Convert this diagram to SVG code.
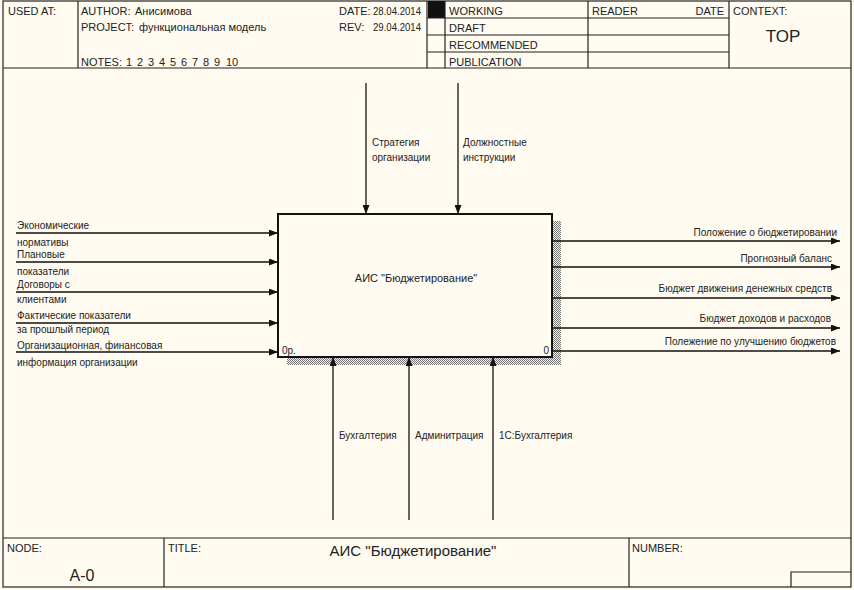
<svg xmlns="http://www.w3.org/2000/svg" width="854" height="590" viewBox="0 0 854 590">
<style>
text{font-family:"Liberation Sans",Arial,sans-serif;fill:#222}
.h{font-size:11px}
.l{font-size:10px}
.fr{fill:none;stroke:#333;stroke-width:1.3}
.ln{stroke:#222;stroke-width:1.2;fill:none}
.c{stroke:#111;stroke-width:1.3;fill:none;marker-end:url(#ah)}
</style>
<defs>
<marker id="ah" markerUnits="userSpaceOnUse" markerWidth="9" markerHeight="7" refX="9" refY="3.5" orient="auto">
<path d="M0,0 L9,3.5 L0,7 z" fill="#111"/>
</marker>
<pattern id="hatch" width="2" height="2" patternUnits="userSpaceOnUse">
<rect width="2" height="2" fill="#f4f0e6"/>
<rect width="1" height="1" fill="#777"/>
<rect x="1" y="1" width="1" height="1" fill="#777"/>
</pattern>
</defs>
<rect width="854" height="590" fill="#fffbf1"/>
<g id="frame">
<rect class="fr" x="3" y="1" width="848" height="586"/>
<line class="ln" x1="3" y1="68" x2="851" y2="68"/>
<line class="ln" x1="3" y1="538" x2="851" y2="538"/>
</g>
<g id="header">
<line class="ln" x1="78" y1="1" x2="78" y2="68"/>
<line class="ln" x1="427" y1="1" x2="427" y2="68"/>
<rect x="428" y="1" width="17" height="17" fill="#111"/>
<line class="ln" x1="445" y1="1" x2="445" y2="68"/>
<line class="ln" x1="588" y1="1" x2="588" y2="68"/>
<line class="ln" x1="729" y1="1" x2="729" y2="68"/>
<line class="ln" x1="427" y1="18" x2="729" y2="18"/>
<line class="ln" x1="427" y1="35" x2="729" y2="35"/>
<line class="ln" x1="427" y1="52" x2="729" y2="52"/>
<text class="h" x="8" y="15">USED AT:</text>
<text class="h" x="81" y="15">AUTHOR:</text>
<text class="h" x="135" y="15" font-size="10">Анисимова</text>
<text class="h" x="81" y="31">PROJECT:</text>
<text class="h" x="139" y="31" font-size="10">функциональная модель</text>
<text class="h" x="81" y="66">NOTES:</text>
<text class="h" y="66" font-size="10.5"><tspan x="126">1</tspan><tspan x="137">2</tspan><tspan x="148">3</tspan><tspan x="159">4</tspan><tspan x="170">5</tspan><tspan x="181">6</tspan><tspan x="192">7</tspan><tspan x="203">8</tspan><tspan x="214">9</tspan><tspan x="226">10</tspan></text>
<text class="h" x="339" y="15">DATE:</text>
<text class="h" x="373" y="15" textLength="48" lengthAdjust="spacingAndGlyphs">28.04.2014</text>
<text class="h" x="339" y="31">REV:</text>
<text class="h" x="373" y="31" textLength="48" lengthAdjust="spacingAndGlyphs">29.04.2014</text>
<text class="h" x="449" y="15">WORKING</text>
<text class="h" x="449" y="32">DRAFT</text>
<text class="h" x="449" y="49">RECOMMENDED</text>
<text class="h" x="449" y="66">PUBLICATION</text>
<text class="h" x="592" y="15">READER</text>
<text class="h" x="724" y="15" text-anchor="end">DATE</text>
<text class="h" x="733" y="15">CONTEXT:</text>
<text x="783" y="42" text-anchor="middle" font-size="17">TOP</text>
</g>
<g id="footer">
<line class="ln" x1="164" y1="538" x2="164" y2="587"/>
<line class="ln" x1="629" y1="538" x2="629" y2="587"/>
<polyline class="ln" points="791,587 791,572 851,572"/>
<text class="h" x="7" y="552">NODE:</text>
<text x="82" y="581" text-anchor="middle" font-size="16">A-0</text>
<text class="h" x="168" y="552">TITLE:</text>
<text x="413" y="556" text-anchor="middle" font-size="15">АИС "Бюджетирование"</text>
<text class="h" x="632" y="552">NUMBER:</text>
</g>
<g id="node-A0">
<path d="M553,221 H561 V365 H287 V357 H553 Z" fill="url(#hatch)"/>
<rect x="278" y="214" width="274" height="143" fill="#fffbf1" stroke="#111" stroke-width="2"/>
<text class="h" x="416" y="282" text-anchor="middle">АИС "Бюджетирование"</text>
<text class="l" x="282" y="354">0р.</text>
<text class="l" x="549" y="354" text-anchor="end">0</text>
</g>
<g id="connectors">
<line class="c" x1="366" y1="83" x2="366" y2="214"/>
<line class="c" x1="458" y1="83" x2="458" y2="214"/>
<line class="c" x1="333" y1="520" x2="333" y2="357"/>
<line class="c" x1="409" y1="520" x2="409" y2="357"/>
<line class="c" x1="493" y1="520" x2="493" y2="357"/>
<line class="c" x1="16" y1="233" x2="278" y2="233"/>
<line class="c" x1="16" y1="262" x2="278" y2="262"/>
<line class="c" x1="16" y1="292" x2="278" y2="292"/>
<line class="c" x1="16" y1="323" x2="278" y2="323"/>
<line class="c" x1="16" y1="352" x2="278" y2="352"/>
<line class="c" x1="553" y1="241" x2="840" y2="241"/>
<line class="c" x1="553" y1="267" x2="840" y2="267"/>
<line class="c" x1="553" y1="298" x2="840" y2="298"/>
<line class="c" x1="553" y1="328" x2="840" y2="328"/>
<line class="c" x1="553" y1="351" x2="840" y2="351"/>
<text class="l" x="372" y="146">Стратегия</text>
<text class="l" x="372" y="161">организации</text>
<text class="l" x="463" y="146">Должностные</text>
<text class="l" x="463" y="161">инструкции</text>
<text class="l" x="339" y="439">Бухгалтерия</text>
<text class="l" x="415" y="439">Админитрация</text>
<text class="l" x="499" y="439">1С:Бухгалтерия</text>
<text class="l" x="17" y="229">Экономические</text>
<text class="l" x="17" y="246">нормативы</text>
<text class="l" x="17" y="258">Плановые</text>
<text class="l" x="17" y="275">показатели</text>
<text class="l" x="17" y="288">Договоры с</text>
<text class="l" x="17" y="303">клиентами</text>
<text class="l" x="17" y="319">Фактические показатели</text>
<text class="l" x="17" y="333">за прошлый период</text>
<text class="l" x="17" y="349">Организационная, финансовая</text>
<text class="l" x="17" y="366">информация организации</text>
<text class="l" x="837" y="236" text-anchor="end">Положение о бюджетировании</text>
<text class="l" x="832" y="262" text-anchor="end">Прогнозный баланс</text>
<text class="l" x="832" y="292" text-anchor="end">Бюджет движения денежных средств</text>
<text class="l" x="831" y="322" text-anchor="end">Бюджет доходов и расходов</text>
<text class="l" x="836" y="345" text-anchor="end">Полежение по улучшению бюджетов</text>
</g>
</svg>
